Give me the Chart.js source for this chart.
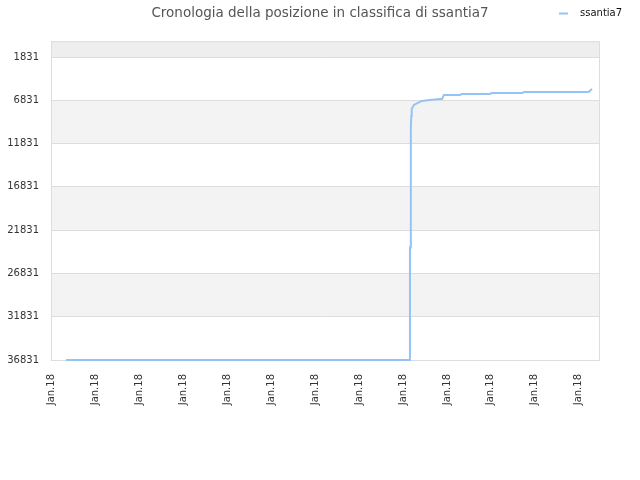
<!DOCTYPE html>
<html>
<head>
<meta charset="utf-8">
<script src="https://cdn.jsdelivr.net/npm/chart.js@4/dist/chart.umd.min.js"></script>
<style>
  html, body { margin: 0; padding: 0; background: #fff; }
  #wrap { width: 640px; height: 480px; position: relative; }
</style>
</head>
<body>
<div id="wrap"><canvas id="rankChart"></canvas></div>
<script>
// dati
const xTickLabels = ['Jan.18','Jan.18','Jan.18','Jan.18','Jan.18','Jan.18','Jan.18',
                     'Jan.18','Jan.18','Jan.18','Jan.18','Jan.18','Jan.18'];
const yTicks = [1831, 6831, 11831, 16831, 21831, 26831, 31831, 36831];
const pointX = [0.34, 8.16, 8.16, 8.18, 8.18, 8.19, 8.2, 8.25, 8.34, 8.43, 8.61, 8.84,
                8.89, 8.93, 9.30, 9.34, 9.98, 10.02, 10.72, 10.75, 12.22, 12.27, 12.3];
const rankValues = [36831, 36831, 23820, 23820, 10000, 8620, 7820, 7360, 7130, 6900, 6780, 6670,
                    6670, 6210, 6210, 6090, 6090, 5980, 5980, 5860, 5860, 5630, 5520];
const seriesName = 'ssantia7';
const lineColor = '#94c4f4';

const points = pointX.map((x, i) => ({ x: x, y: rankValues[i] }));

// bande alternate + bordo dell'area
const bandsPlugin = {
    id: 'bands',
    beforeDraw(chart) {
        const { ctx, chartArea, scales } = chart;
        const y = scales.y;
        ctx.save();
        // fascia sopra il primo tick
        const topPx = y.getPixelForValue(0);
        const firstPx = y.getPixelForValue(yTicks[0]);
        ctx.fillStyle = '#eeeeee';
        ctx.fillRect(chartArea.left, topPx, chartArea.width, firstPx - topPx);
        for (let i = 0; i < yTicks.length - 1; i++) {
            if (i % 2 === 1) {
                const a = y.getPixelForValue(yTicks[i]);
                const b = y.getPixelForValue(yTicks[i + 1]);
                ctx.fillStyle = '#f3f3f3';
                ctx.fillRect(chartArea.left, a, chartArea.width, b - a);
            }
        }
        ctx.strokeStyle = '#dddddd';
        ctx.lineWidth = 1;
        ctx.strokeRect(chartArea.left + 0.5, chartArea.top + 0.5, chartArea.width - 1, chartArea.height);
        ctx.restore();
    },
    afterDraw(chart) {
        // legenda in alto a destra
        const ctx = chart.ctx;
        ctx.save();
        ctx.strokeStyle = lineColor;
        ctx.lineWidth = 2;
        ctx.beginPath();
        ctx.moveTo(559, 13.5);
        ctx.lineTo(568, 13.5);
        ctx.stroke();
        ctx.fillStyle = '#111';
        ctx.font = '10px "DejaVu Sans"';
        ctx.textBaseline = 'middle';
        ctx.fillText(seriesName, 580, 13);
        ctx.restore();
    }
};

new Chart(document.getElementById('rankChart'), {
    type: 'line',
    data: {
        datasets: [{
            label: seriesName,
            data: points,
            borderColor: lineColor,
            backgroundColor: lineColor,
            borderWidth: 2,
            pointRadius: 0,
            tension: 0,
            fill: false,
            clip: 4
        }]
    },
    options: {
        responsive: true,
        maintainAspectRatio: false,
        animation: false,
        layout: { padding: 0 },
        plugins: {
            legend: { display: false },
            tooltip: { enabled: false },
            title: {
                display: true,
                text: 'Cronologia della posizione in classifica di ssantia7',
                color: '#555',
                font: { size: 13.5, family: 'DejaVu Sans', weight: 'normal' },
                padding: { top: 5, bottom: 20 }
            }
        },
        scales: {
            x: {
                type: 'linear',
                min: 0,
                max: 12.48,
                grid: { display: false },
                border: { display: false },
                afterFit(scale) { scale.height = 120; },
                afterBuildTicks(scale) {
                    scale.ticks = xTickLabels.map((t, i) => ({ value: i }));
                },
                ticks: {
                    minRotation: 90,
                    maxRotation: 90,
                    autoSkip: false,
                    padding: 6,
                    color: '#333',
                    font: { size: 10, family: 'DejaVu Sans' },
                    callback: function(value, index) { return xTickLabels[index]; }
                }
            },
            y: {
                type: 'linear',
                reverse: true,
                min: 0,
                max: 36831,
                grid: { color: '#dddddd', drawTicks: false },
                border: { display: false },
                afterFit(scale) { scale.width = 51; },
                afterBuildTicks(scale) {
                    scale.ticks = yTicks.map(v => ({ value: v }));
                },
                ticks: {
                    padding: 12,
                    color: '#333',
                    font: { size: 10, family: 'DejaVu Sans' },
                    callback: function(value) { return String(value); }
                }
            },
            // asse vuoto a destra, solo per lo spazio
            yRight: {
                type: 'linear',
                position: 'right',
                grid: { display: false },
                border: { display: false },
                ticks: { display: false },
                afterFit(scale) { scale.width = 40; }
            }
        }
    },
    plugins: [bandsPlugin]
});
</script>
</body>
</html>
